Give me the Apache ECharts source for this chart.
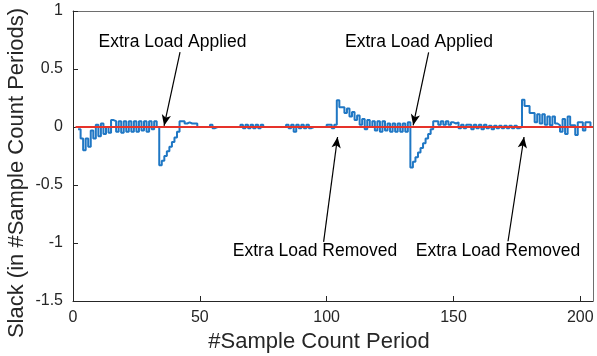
<!DOCTYPE html>
<html><head><meta charset="utf-8">
<script src="https://cdn.jsdelivr.net/npm/echarts@6/dist/echarts.min.js"></script>
<style>html,body{margin:0;padding:0;background:#fff}#c{width:597px;height:356px}</style>
</head><body><div id="c"></div>
<script>
// ---- data ----
const xTickValues = [0, 50, 100, 150, 200];
const yTickValues = [-1.5, -1, -0.5, 0, 0.5, 1];
const slackStartIndex = 2;
const slackValues = [
  // 2..33
  -0.02, -0.1, -0.2, -0.1, -0.17, -0.03, -0.1, 0.02, -0.08, 0.03, -0.06, 0.0, -0.05, 0.06, 0.05, -0.04,
  0.05, -0.05, 0.05, -0.04, 0.05, -0.04, 0.05, -0.04, 0.05, -0.03, 0.05, -0.04, 0.05, -0.02, 0.05, 0.0,
  // 34..48
  -0.33, -0.29, -0.25, -0.21, -0.17, -0.13, -0.09, -0.04, 0.05, 0.05, 0.03, 0.04, 0.03, 0.03, 0.03,
  // 49..53
  0, 0, 0, 0, 0,
  // 54..55
  0.02, -0.01,
  // 56..65
  0, 0, 0, 0, 0, 0, 0, 0, 0, 0,
  // 66..75
  0.02, -0.01, 0.02, -0.01, 0.02, -0.01, 0.02, -0.01, 0.02, 0,
  // 76..83
  0, 0, 0, 0, 0, 0, 0, 0,
  // 84..94
  0.02, -0.01, 0.02, -0.04, 0.02, -0.01, 0.02, -0.01, 0.02, -0.01, 0,
  // 95..99
  0, 0, 0, 0, 0,
  // 100..103
  0.02, 0.02, -0.01, 0.02,
  // 104..132
  0.23, 0.17, 0.17, 0.12, 0.16, 0.09, 0.13, 0.06, 0.1, 0.02, 0.07, -0.02, 0.06, 0.0, 0.05, -0.03,
  0.05, -0.04, 0.05, -0.03, 0.03, -0.04, 0.03, -0.04, 0.03, -0.04, 0.03, -0.04, 0.04,
  // 133..151
  -0.35, -0.3, -0.26, -0.22, -0.18, -0.14, -0.1, -0.06, -0.02, 0.05, 0.05, 0.02, 0.05, 0.02, 0.05, 0.02, 0.04, 0.03, 0.04,
  // 152..176
  -0.01, 0.02, -0.01, 0.02, 0.02, -0.02, 0.02, -0.01, 0.02, -0.02, 0.02, -0.01, 0.01, -0.02, 0.01, -0.01,
  0.01, -0.01, 0.01, -0.01, 0.01, -0.01, 0.01, -0.01, 0.0,
  // 177..205
  0.235, 0.18, 0.18, 0.12, 0.12, 0.04, 0.11, 0.03, 0.11, 0.02, 0.09, 0.015, 0.09, 0.03, 0.015, -0.04,
  0.07, -0.06, 0.09, 0.015, 0.015, -0.07, 0.04, 0.04, -0.03, 0.04, 0.04, 0.0, 0.0
];
const referenceX = [1, 205];
const referenceY = [0, 0];
const xAxisTitle = '#Sample Count Period';
const yAxisTitle = 'Slack (in #Sample Count Periods)';
const appliedLabel = 'Extra Load Applied';
const removedLabel = 'Extra Load Removed';

// ---- chart ----
const slackSeries = slackValues.map((v, k) => [slackStartIndex + k, v]);
const refSeries = referenceX.map((x, k) => [x, referenceY[k]]);
const FONT = "'Liberation Sans', Arial, Helvetica, sans-serif";
const axisColor = '#262626';

const chart = echarts.init(document.getElementById('c'), null, {renderer: 'canvas'});
function arrow(from, to) {
  return [{coord: from}, {coord: to}];
}
chart.setOption({
  animation: false,
  backgroundColor: '#fff',
  grid: {left: 73, right: 4, top: 11, bottom: 55, containLabel: false},
  xAxis: [{
    type: 'value', min: 0, max: 205, interval: 50,
    axisLine: {show: true, onZero: false, lineStyle: {color: axisColor, width: 1}},
    axisTick: {show: true, inside: true, length: 5, customValues: xTickValues, lineStyle: {color: axisColor}},
    axisLabel: {customValues: xTickValues, color: axisColor, fontSize: 16, fontFamily: FONT, margin: 9},
    splitLine: {show: false}
  }, {
    type: 'value', position: 'top', min: 0, max: 205,
    axisLine: {show: true, onZero: false, lineStyle: {color: '#6e6e6e', width: 1}},
    axisTick: {show: false}, axisLabel: {show: false}, splitLine: {show: false}
  }],
  yAxis: [{
    type: 'value', min: -1.5, max: 1, interval: 0.5,
    axisLine: {show: true, onZero: false, lineStyle: {color: axisColor, width: 1}},
    axisTick: {show: true, inside: true, length: 5, customValues: yTickValues, lineStyle: {color: axisColor}},
    axisLabel: {customValues: yTickValues, color: axisColor, fontSize: 16, fontFamily: FONT, margin: 10},
    splitLine: {show: false}
  }, {
    type: 'value', position: 'right', min: -1.5, max: 1,
    axisLine: {show: true, onZero: false, lineStyle: {color: '#6e6e6e', width: 1}},
    axisTick: {show: false}, axisLabel: {show: false}, splitLine: {show: false}
  }],
  series: [{
    type: 'line', name: 'slack', step: 'end', data: slackSeries,
    showSymbol: false, symbol: 'none',
    lineStyle: {color: '#1f77c4', width: 2},
    z: 2, silent: true
  }, {
    type: 'line', name: 'reference', data: refSeries,
    showSymbol: false, symbol: 'none',
    lineStyle: {color: '#e6332a', width: 2},
    z: 3, silent: true,
    markLine: {
      silent: true,
      symbol: ['none', 'arrow'],
      symbolSize: [7, 11],
      label: {show: false},
      lineStyle: {color: '#000', width: 1.2, type: 'solid'},
      emphasis: {disabled: true},
      data: [
        arrow([42.2, 0.646], [35.9, 0.01]),
        arrow([140.2, 0.643], [134.1, 0.015]),
        arrow([98.8, -0.99], [104.3, -0.086]),
        arrow([171.5, -0.985], [177.8, -0.086])
      ]
    }
  }],
  graphic: [
    {type: 'text', x: 172.5, y: 42, style: {text: appliedLabel, font: "17.5px " + FONT, fill: '#000', align: 'center', verticalAlign: 'middle'}},
    {type: 'text', x: 419, y: 42, style: {text: appliedLabel, font: "17.5px " + FONT, fill: '#000', align: 'center', verticalAlign: 'middle'}},
    {type: 'text', x: 315, y: 251.5, style: {text: removedLabel, font: "17.5px " + FONT, fill: '#000', align: 'center', verticalAlign: 'middle'}},
    {type: 'text', x: 498, y: 251.5, style: {text: removedLabel, font: "17.5px " + FONT, fill: '#000', align: 'center', verticalAlign: 'middle'}},
    {type: 'text', x: 319, y: 341.5, style: {text: xAxisTitle, font: "22px " + FONT, fill: axisColor, align: 'center', verticalAlign: 'middle'}},
    {type: 'text', x: 17, y: 173, rotation: Math.PI / 2, style: {text: yAxisTitle, font: "22px " + FONT, fill: axisColor, align: 'center', verticalAlign: 'middle'}}
  ]
});
</script>
</body></html>
